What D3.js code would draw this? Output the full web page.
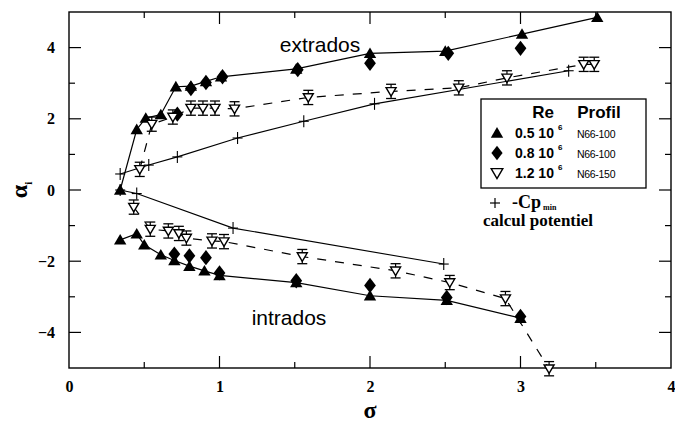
<!DOCTYPE html>
<html>
<head>
<meta charset="utf-8">
<script src="https://cdn.jsdelivr.net/npm/d3@7"></script>
<style>
  html, body { margin: 0; padding: 0; background: #fff; }
  svg { display: block; }
</style>
</head>
<body>
<svg id="chart" width="675" height="432"></svg>
<script>
// σ / α_i measurements, extrados (upper) and intrados (lower) branches
const triExtSigma = [0.34, 0.45, 0.51, 0.61, 0.71, 0.81, 0.91, 1.01, 1.51, 2.0, 2.5, 3.01, 3.51];
const triExtAlpha = [0.0, 1.7, 2.02, 2.12, 2.9, 2.92, 3.05, 3.18, 3.4, 3.84, 3.9, 4.38, 4.85];

const diaExtSigma = [0.72, 0.81, 0.91, 1.02, 1.52, 2.0, 2.52, 3.0];
const diaExtAlpha = [2.13, 2.85, 3.02, 3.18, 3.38, 3.56, 3.84, 3.98];

const openExtSigma = [0.47, 0.55, 0.69, 0.81, 0.89, 0.97, 1.1, 1.59, 2.14, 2.59, 2.91, 3.42, 3.49];
const openExtAlpha = [0.58, 1.85, 2.05, 2.3, 2.3, 2.3, 2.28, 2.6, 2.77, 2.87, 3.15, 3.53, 3.53];

const triIntSigma = [0.34, 0.45, 0.5, 0.61, 0.7, 0.8, 0.9, 1.0, 1.51, 2.0, 2.51, 3.0];
const triIntAlpha = [-1.4, -1.23, -1.54, -1.82, -1.98, -2.14, -2.27, -2.4, -2.6, -2.97, -3.1, -3.6];

const diaIntSigma = [0.7, 0.8, 0.91, 1.0, 1.51, 2.0, 2.51, 3.0];
const diaIntAlpha = [-1.8, -1.85, -1.9, -2.33, -2.55, -2.68, -3.02, -3.55];

const openIntSigma = [0.43, 0.54, 0.66, 0.73, 0.78, 0.95, 1.03, 1.55, 2.17, 2.53, 2.9, 3.19];
const openIntAlpha = [-0.48, -1.1, -1.15, -1.22, -1.35, -1.43, -1.45, -1.87, -2.27, -2.6, -3.05, -5.02];

// -Cp_min, potential flow computation
const cpExtSigma = [0.34, 0.53, 0.72, 1.12, 1.56, 2.03, 3.32];
const cpExtAlpha = [0.45, 0.7, 0.93, 1.46, 1.93, 2.42, 3.35];
const cpIntSigma = [0.34, 0.45, 1.09, 2.49];
const cpIntAlpha = [0.0, -0.1, -1.07, -2.08];

// half-height of the uncertainty bars on the 1.2 10^6 series
const openErr = 0.2;

const xTicks = [0, 1, 2, 3, 4];
const yTicks = [-4, -2, 0, 2, 4];

const legendRe = ["0.5 10", "0.8 10", "1.2 10"];
const legendProfil = ["N66-100", "N66-100", "N66-150"];

const zip = (xs, ys) => xs.map((s, i) => ({ s, a: ys[i] }));

const svg = d3.select("#chart");
const plotL = 69, plotR = 671, plotT = 12, plotB = 368;
const x = d3.scaleLinear().domain([0, 4]).range([plotL, plotR]);
const y = d3.scaleLinear().domain([-5, 5]).range([plotB, plotT]);

const ink = "#000";
const serif = "'Liberation Serif', 'Times New Roman', serif";
const sans = "'Liberation Sans', Arial, sans-serif";

// frame with inward ticks on all four sides
const frame = svg.append("g");
frame.append("rect")
  .attr("x", plotL).attr("y", plotT)
  .attr("width", plotR - plotL).attr("height", plotB - plotT)
  .attr("fill", "none").attr("stroke", ink).attr("stroke-width", 1.4);

const xMinor = d3.range(0.5, 4, 0.5);
const yMinor = d3.range(-4, 5, 1);

xMinor.forEach(v => {
  const len = Number.isInteger(v) ? 12 : 6;
  frame.append("line").attr("x1", x(v)).attr("x2", x(v))
    .attr("y1", plotB).attr("y2", plotB - len).attr("stroke", ink).attr("stroke-width", 1.2);
  frame.append("line").attr("x1", x(v)).attr("x2", x(v))
    .attr("y1", plotT).attr("y2", plotT + len).attr("stroke", ink).attr("stroke-width", 1.2);
});
yMinor.forEach(v => {
  const len = (v % 2 === 0) ? 12 : 6;
  frame.append("line").attr("x1", plotL).attr("x2", plotL + len)
    .attr("y1", y(v)).attr("y2", y(v)).attr("stroke", ink).attr("stroke-width", 1.2);
  frame.append("line").attr("x1", plotR).attr("x2", plotR - len)
    .attr("y1", y(v)).attr("y2", y(v)).attr("stroke", ink).attr("stroke-width", 1.2);
});

// tick labels through d3 axes (domain lines and tick marks hidden)
const xAxis = svg.append("g")
  .attr("transform", `translate(0,${plotB})`)
  .call(d3.axisBottom(x).tickValues(xTicks).tickSize(0).tickPadding(13).tickFormat(d3.format("d")));
const yAxis = svg.append("g")
  .attr("transform", `translate(${plotL},0)`)
  .call(d3.axisLeft(y).tickValues(yTicks).tickSize(0).tickPadding(14).tickFormat(d3.format("d")));
[xAxis, yAxis].forEach(g => {
  g.select(".domain").remove();
  g.selectAll("text").attr("font-family", serif).attr("font-size", 16)
    .attr("font-weight", "bold").attr("fill", ink);
});

// axis titles
svg.append("text").attr("x", x(2)).attr("y", 418)
  .attr("text-anchor", "middle").attr("font-family", serif)
  .attr("font-size", 24).attr("font-weight", "bold").text("σ");
const yl = svg.append("text")
  .attr("transform", `translate(27,${y(0)}) rotate(-90)`)
  .attr("text-anchor", "middle").attr("font-family", serif).attr("font-size", 24).attr("font-weight", "bold");
yl.append("tspan").text("α");
yl.append("tspan").attr("font-size", 11).attr("dy", 5).text("i");

// connecting curves
const line = d3.line().x(d => x(d.s)).y(d => y(d.a));
const drawLine = (data, dash, w) => svg.append("path")
  .attr("d", line(data)).attr("fill", "none").attr("stroke", ink)
  .attr("stroke-width", w).attr("stroke-dasharray", dash || null);

drawLine(zip(cpExtSigma, cpExtAlpha), null, 1.1);
drawLine(zip(cpIntSigma, cpIntAlpha), null, 1.1);
drawLine(zip(triExtSigma, triExtAlpha), null, 1.2);
drawLine(zip(triIntSigma, triIntAlpha), null, 1.2);
drawLine(zip(openExtSigma, openExtAlpha), "9,9", 1.2);
drawLine(zip(openIntSigma, openIntAlpha), "9,9", 1.2);

// marker shapes
const triUp = (cx, cy, r) => `M${cx},${cy - r}L${cx + r * 1.05},${cy + r * 0.8}L${cx - r * 1.05},${cy + r * 0.8}Z`;
const triDown = (cx, cy, r) => `M${cx - r},${cy - r * 0.75}L${cx + r},${cy - r * 0.75}L${cx},${cy + r * 0.95}Z`;
const diamond = (cx, cy, r) => `M${cx},${cy - r * 1.3}L${cx + r},${cy}L${cx},${cy + r * 1.3}L${cx - r},${cy}Z`;

const drawFilled = (data, shape, r) => svg.append("g").selectAll("path").data(data).join("path")
  .attr("d", d => shape(x(d.s), y(d.a), r)).attr("fill", ink);

drawFilled(zip(triExtSigma, triExtAlpha), triUp, 5.9);
drawFilled(zip(triIntSigma, triIntAlpha), triUp, 5.9);
drawFilled(zip(diaExtSigma, diaExtAlpha), diamond, 5.9);
drawFilled(zip(diaIntSigma, diaIntAlpha), diamond, 5.9);

// open triangles with uncertainty bars
const drawOpen = data => {
  const g = svg.append("g").selectAll("g").data(data).join("g");
  g.append("line")
    .attr("x1", d => x(d.s)).attr("x2", d => x(d.s))
    .attr("y1", d => y(d.a + openErr)).attr("y2", d => y(d.a - openErr))
    .attr("stroke", ink).attr("stroke-width", 1.2);
  [openErr, -openErr].forEach(e => g.append("line")
    .attr("x1", d => x(d.s) - 5).attr("x2", d => x(d.s) + 5)
    .attr("y1", d => y(d.a + e)).attr("y2", d => y(d.a + e))
    .attr("stroke", ink).attr("stroke-width", 1.3));
  g.append("path").attr("d", d => triDown(x(d.s), y(d.a), 5))
    .attr("fill", "#fff").attr("stroke", ink).attr("stroke-width", 1.4);
};
drawOpen(zip(openExtSigma, openExtAlpha));
drawOpen(zip(openIntSigma, openIntAlpha));

// plus markers for the potential computation
const drawPlus = data => {
  const g = svg.append("g").selectAll("g").data(data).join("g");
  g.append("line").attr("x1", d => x(d.s) - 5).attr("x2", d => x(d.s) + 5)
    .attr("y1", d => y(d.a)).attr("y2", d => y(d.a)).attr("stroke", ink).attr("stroke-width", 1.1);
  g.append("line").attr("x1", d => x(d.s)).attr("x2", d => x(d.s))
    .attr("y1", d => y(d.a) - 6).attr("y2", d => y(d.a) + 6).attr("stroke", ink).attr("stroke-width", 1.1);
};
drawPlus(zip(cpExtSigma, cpExtAlpha));
drawPlus(zip(cpIntSigma, cpIntAlpha));

// branch labels
svg.append("text").attr("x", 320).attr("y", 52).attr("text-anchor", "middle")
  .attr("font-family", sans).attr("font-size", 21).text("extrados");
svg.append("text").attr("x", 289).attr("y", 325).attr("text-anchor", "middle")
  .attr("font-family", sans).attr("font-size", 21).text("intrados");

// legend
const lg = svg.append("g");
lg.append("rect").attr("x", 481).attr("y", 99).attr("width", 165).attr("height", 89)
  .attr("fill", "#fff").attr("stroke", ink).attr("stroke-width", 1.3);
lg.append("text").attr("x", 543).attr("y", 118).attr("text-anchor", "middle")
  .attr("font-family", sans).attr("font-size", 17).attr("font-weight", "bold").text("Re");
lg.append("text").attr("x", 599).attr("y", 118).attr("text-anchor", "middle")
  .attr("font-family", sans).attr("font-size", 17).attr("font-weight", "bold").text("Profil");
const legendShapes = [
  (cx, cy) => lg.append("path").attr("d", triUp(cx, cy, 5.9)).attr("fill", ink),
  (cx, cy) => lg.append("path").attr("d", diamond(cx, cy, 5.6)).attr("fill", ink),
  (cx, cy) => lg.append("path").attr("d", triDown(cx, cy, 5.8)).attr("fill", "#fff").attr("stroke", ink).attr("stroke-width", 1.4)
];
legendRe.forEach((t, i) => {
  const base = 138 + i * 20;
  legendShapes[i](497, base - 5);
  const tx = lg.append("text").attr("x", 515).attr("y", base)
    .attr("font-family", sans).attr("font-size", 14).attr("font-weight", "bold");
  tx.append("tspan").text(t);
  tx.append("tspan").attr("font-size", 8).attr("dx", 4).attr("dy", -8).text("6");
  lg.append("text").attr("x", 577).attr("y", base)
    .attr("font-family", sans).attr("font-size", 10.5).attr("letter-spacing", -0.3).text(legendProfil[i]);
});

// -Cp_min note under the legend
const cpX = 495, cpY = 203;
lg.append("line").attr("x1", cpX - 5).attr("x2", cpX + 5).attr("y1", cpY).attr("y2", cpY).attr("stroke", ink).attr("stroke-width", 1.2);
lg.append("line").attr("x1", cpX).attr("x2", cpX).attr("y1", cpY - 5).attr("y2", cpY + 5).attr("stroke", ink).attr("stroke-width", 1.2);
const cpT = lg.append("text").attr("x", 512).attr("y", 208)
  .attr("font-family", serif).attr("font-size", 18).attr("font-weight", "bold");
cpT.append("tspan").text("-Cp");
cpT.append("tspan").attr("font-size", 8).attr("dx", 2).attr("dy", 2).text("min");
lg.append("text").attr("x", 483).attr("y", 226)
  .attr("font-family", serif).attr("font-size", 17).attr("font-weight", "bold").text("calcul potentiel");
</script>
</body>
</html>
